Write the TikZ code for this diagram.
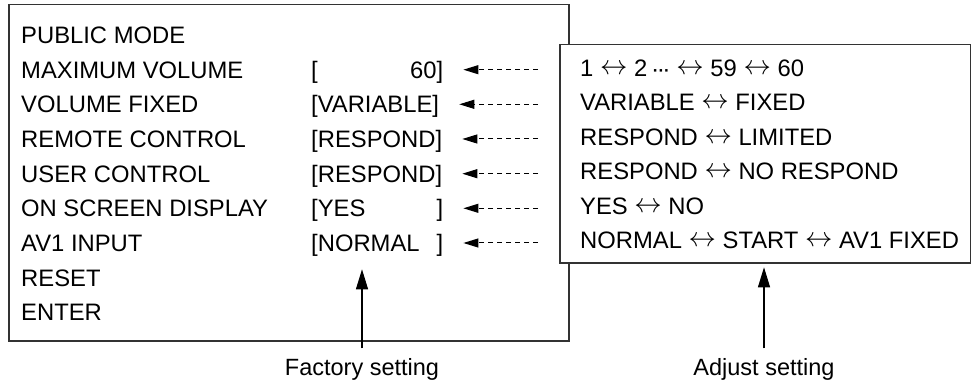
\documentclass[tikz,border=0pt]{standalone}
\usepackage{fontspec}
\usepackage{graphicx}
\setmainfont{Liberation Sans}
\usetikzlibrary{arrows.meta}
\newcommand\valbox[1]{\hbox to 132pt{#1}}
\newcommand\lra{ \raisebox{2pt}{\scalebox{1.1}{$\leftrightarrow$}} }
\newcommand\mydots{{\bfseries\fontsize{17}{17}\selectfont\kern-1pt ···}}
\begin{document}
\begin{tikzpicture}[x=1pt,y=-1pt,
  txt/.style={anchor=west,inner sep=0pt,text height=17pt,text depth=0pt,font=\fontsize{23.8}{28}\selectfont},
  lbl/.style={inner sep=0pt,text height=17pt,text depth=0pt,font=\fontsize{23.5}{28}\selectfont},
  frame/.style={draw=black!80,line width=1.5pt,inner sep=0pt},
  darr/.style={-{Triangle[length=15pt,width=9pt]},dash pattern=on 5pt off 4pt,line width=1pt},
  varr/.style={-{Triangle[length=20pt,width=12pt]},line width=1.2pt}]
\useasboundingbox (0,0) rectangle (971,387);
% left box
\node[frame,minimum width=560pt,minimum height=336pt,anchor=north west] (lbox) at (8,4) {};
\node[txt] (l1) at (21,35.0) {PUBLIC MODE};
\node[txt] (l2) at (21,69.7) {MAXIMUM VOLUME};
\node[txt] (l3) at (21,104.3) {VOLUME FIXED};
\node[txt] (l4) at (21,139.0) {REMOTE CONTROL};
\node[txt] (l5) at (21,173.7) {USER CONTROL};
\node[txt] (l6) at (21,208.3) {ON SCREEN DISPLAY};
\node[txt] (l7) at (21,243.0) {AV1 INPUT};
\node[txt] (l8) at (21,277.7) {RESET};
\node[txt] (l9) at (21,312.3) {ENTER};
% values
\node[txt] (v1) at (311,69.7) {\valbox{[\hfil 60]}};
\node[txt] (v2) at (311,104.3) {[VARIABLE]};
\node[txt] (v3) at (311,139.0) {[RESPOND]};
\node[txt] (v4) at (311,173.7) {[RESPOND]};
\node[txt] (v5) at (311,208.3) {\valbox{[YES\hfil]}};
\node[txt] (v6) at (311,243.0) {\valbox{[NORMAL\hfil]}};
% right box
\node[frame,fill=white,minimum width=411pt,minimum height=218pt,anchor=north west] (rbox) at (559,44) {};
\node[txt] (r1) at (580,68.0) {1\lra 2 \mydots\lra 59\lra 60};
\node[txt] (r2) at (580,102.4) {VARIABLE\lra FIXED};
\node[txt] (r3) at (580,136.8) {RESPOND\lra LIMITED};
\node[txt] (r4) at (580,171.2) {RESPOND\lra NO RESPOND};
\node[txt] (r5) at (580,205.6) {YES\lra NO};
\node[txt] (r6) at (580,240.0) {NORMAL\lra START\lra AV1 FIXED};
% dashed arrows
\foreach \i in {1,...,6}{
  \draw[darr] ([xshift=-21pt]rbox.west |- v\i.east) -- ([xshift=20pt]v\i.east);
}
% labels
\node[lbl] (ft) at (362,367) {Factory setting};
\node[lbl] (at) at (764,367) {Adjust setting};
\draw[varr] ([yshift=10pt]ft.north) -- ++(0,-79);
\draw[varr] ([yshift=10pt]at.north) -- ++(0,-81);
\end{tikzpicture}
\end{document}
